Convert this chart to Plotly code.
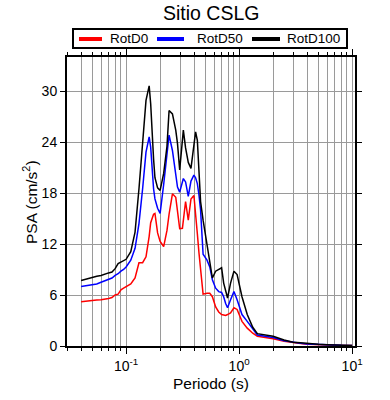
import plotly.graph_objects as go
import math

# ---------------- data ----------------
periods = [0.040, 0.045, 0.050, 0.055, 0.060, 0.065, 0.070, 0.075, 0.080, 0.085,
           0.090, 0.095, 0.100, 0.110, 0.120, 0.130, 0.140, 0.150, 0.160, 0.165,
           0.175, 0.180, 0.190, 0.200, 0.215, 0.230, 0.240, 0.257, 0.275, 0.285,
           0.298, 0.315, 0.321, 0.336, 0.355, 0.375, 0.398, 0.412, 0.427, 0.441,
           0.456, 0.480, 0.520, 0.550, 0.580, 0.620, 0.660, 0.700, 0.730, 0.760,
           0.790, 0.840, 0.900, 0.960, 1.06, 1.18, 1.32, 1.45, 1.70, 2.00,
           2.50, 3.00, 3.50, 4.00, 5.00, 6.00, 7.00, 8.00, 9.00, 10.0]

rotd0 = [5.2, 5.3, 5.35, 5.4, 5.45, 5.5, 5.6, 5.7, 6.0, 6.1,
         6.6, 6.8, 7.0, 7.3, 8.0, 9.8, 9.8, 10.5, 12.9, 14.5,
         15.5, 15.6, 13.3, 12.3, 11.7, 13.6, 15.5, 17.9, 17.5, 15.7,
         13.8, 13.85, 15.0, 17.0, 14.8, 17.3, 17.7, 15.8, 13.2, 11.0,
         9.0, 6.1, 6.2, 6.2, 5.8, 4.6, 4.0, 3.7, 3.65, 3.6,
         3.7, 3.9, 4.5, 4.3, 2.9, 2.1, 1.5, 1.15, 1.0, 0.85,
         0.55, 0.38, 0.30, 0.22, 0.15, 0.11, 0.09, 0.07, 0.06, 0.05]

rotd50 = [7.0, 7.1, 7.2, 7.3, 7.5, 7.7, 7.9, 8.0, 8.3, 8.5,
          8.8, 9.0, 9.3, 10.1, 11.5, 14.4, 18.5, 22.8, 24.6, 23.4,
          18.5, 17.3, 16.2, 15.6, 19.0, 22.5, 24.8, 23.0, 20.0, 18.7,
          18.1, 19.2, 19.7, 19.3, 17.6, 19.4, 20.1, 19.8, 19.1, 17.8,
          16.0, 10.8, 10.1, 9.3, 7.8, 6.8, 6.4, 6.3, 5.8, 5.0,
          4.5, 5.45, 6.4, 5.45, 3.7, 2.9, 2.1, 1.3, 1.15, 1.0,
          0.62, 0.42, 0.33, 0.25, 0.17, 0.13, 0.10, 0.08, 0.07, 0.06]

rotd100 = [7.7, 7.9, 8.1, 8.2, 8.3, 8.5, 8.6, 8.7, 9.1, 9.7,
           9.9, 10.0, 10.2, 11.1, 13.4, 18.5, 24.5, 28.9, 30.6, 28.5,
           22.0, 19.8, 18.6, 18.3, 20.3, 23.5, 27.7, 27.3, 25.4, 23.8,
           20.7, 24.0, 25.4, 23.3, 21.6, 20.9, 23.5, 25.2, 24.2, 20.7,
           17.0, 14.8, 12.1, 10.0, 8.0, 8.8, 9.0, 9.2, 7.4, 6.5,
           5.65, 7.4, 8.8, 8.4, 5.8, 3.7, 2.2, 1.45, 1.3, 1.15,
           0.70, 0.45, 0.37, 0.28, 0.20, 0.15, 0.11, 0.09, 0.07, 0.06]

series_names = ["RotD0", "RotD50", "RotD100"]
series_colors = ["#ff0000", "#0000ff", "#000000"]

x_major = [0.1, 1, 10]
x_major_text = ["10<sup>-1</sup>", "10<sup>0</sup>", "10<sup>1</sup>"]
x_minor = [m * d for d in (0.01, 0.1, 1) for m in range(2, 10) if 0.03 <= m * d <= 10.6]
y_ticks = [0, 6, 12, 18, 24, 30]

title_text = "Sitio CSLG"
x_title = "Periodo (s)"
y_title = "PSA (cm/s<sup>2</sup>)"

# ---------------- layout helpers ----------------
W, H = 390, 400
L, R, T, B = 67, 355, 57, 346
def px(x):
    return (x - L) / (R - L)
def py(y):
    return (B - y) / (B - T)

FONT = "Liberation Sans, Arial, Helvetica, sans-serif"

fig = go.Figure()
for vals, name, col in zip([rotd0, rotd50, rotd100], series_names, series_colors):
    fig.add_trace(go.Scatter(x=periods, y=vals, mode="lines", name=name,
                             line=dict(color=col, width=1.5), showlegend=False))

fig.update_layout(
    width=W, height=H,
    margin=dict(l=L, r=W - R, t=T, b=H - B, pad=0),
    paper_bgcolor="white", plot_bgcolor="white",
    font=dict(family=FONT, size=14, color="black"),
    xaxis=dict(type="log", range=[math.log10(0.03), math.log10(10.6)],
               tickmode="array", tickvals=x_major, ticktext=x_major_text,
               ticks="outside", ticklen=6, tickwidth=1, tickcolor="black",
               showgrid=True, gridcolor="#9a9a9a", gridwidth=1,
               showline=True, linecolor="black", linewidth=2, mirror="ticks",
               zeroline=False, tickfont=dict(size=14),
               minor=dict(tickmode="array", tickvals=x_minor, ticks="outside",
                          ticklen=3, tickcolor="black", showgrid=True,
                          gridcolor="#9a9a9a", gridwidth=1)),
    yaxis=dict(range=[0, 34], tickmode="array", tickvals=y_ticks,
               ticks="outside", ticklen=5, tickwidth=1, tickcolor="black",
               showgrid=True, gridcolor="#9a9a9a", gridwidth=1,
               showline=True, linecolor="black", linewidth=2, mirror="ticks",
               zeroline=False, tickfont=dict(size=14)),
)

# titles
fig.add_annotation(text=title_text, x=px(211), y=py(13), xref="paper", yref="paper",
                   showarrow=False, font=dict(size=19.5), xanchor="center", yanchor="middle")
fig.add_annotation(text=x_title, x=px(211), y=py(383), xref="paper", yref="paper",
                   showarrow=False, font=dict(size=15.5), xanchor="center", yanchor="middle")
fig.add_annotation(text=y_title, x=px(30), y=py(202), xref="paper", yref="paper",
                   showarrow=False, font=dict(size=15.5), textangle=-90,
                   xanchor="center", yanchor="middle")

# manual legend
fig.add_shape(type="rect", xref="paper", yref="paper",
              x0=px(73), x1=px(347), y0=py(48), y1=py(29),
              line=dict(color="black", width=2), fillcolor="white", layer="above")
leg_line_x = [(79, 102), (157, 184), (252, 280)]
leg_text_x = [108, 195, 285]
for (a, b), tx, name, col in zip(leg_line_x, leg_text_x, series_names, series_colors):
    fig.add_shape(type="line", xref="paper", yref="paper",
                  x0=px(a), x1=px(b), y0=py(39), y1=py(39),
                  line=dict(color=col, width=4), layer="above")
    fig.add_annotation(text=name, x=px(tx), y=py(39), xref="paper", yref="paper",
                       showarrow=False, font=dict(size=13.5), xanchor="left", yanchor="middle")

fig.write_html("out.html", config={"displayModeBar": False},
               post_script="document.body.style.margin='0';")
